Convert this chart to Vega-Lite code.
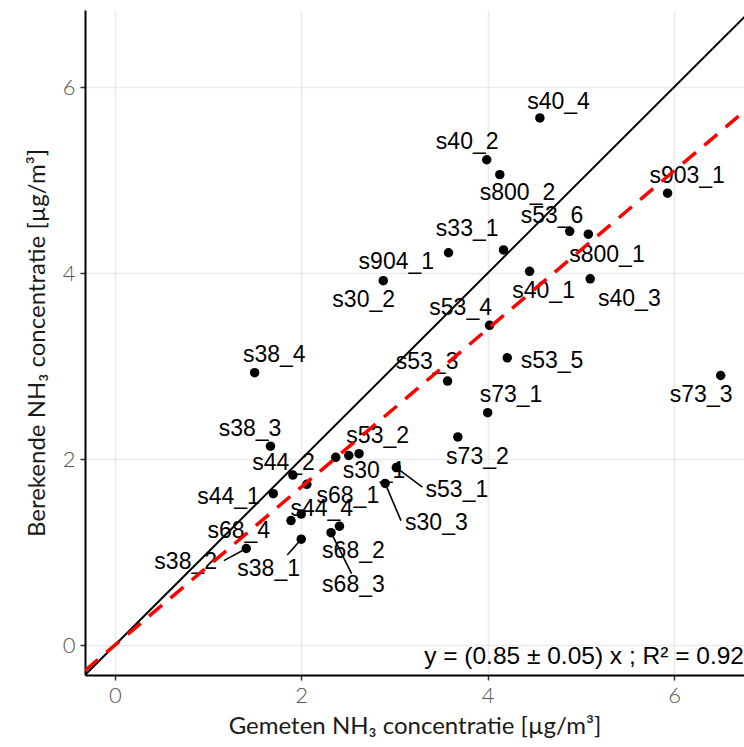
{
  "$schema": "https://vega.github.io/schema/vega-lite/v6.json",
  "width": 659,
  "height": 665,
  "autosize": {"type": "none"},
  "padding": {"left": 85, "top": 10, "right": 0, "bottom": 72},
  "background": "white",
  "config": {
    "view": {"stroke": null},
    "axis": {
      "grid": true,
      "gridColor": "#ebebeb",
      "gridWidth": 1.6,
      "domainColor": "black",
      "domainWidth": 2,
      "tickColor": "#333333",
      "tickSize": 5,
      "tickWidth": 1.5,
      "labelFont": "Lato",
      "labelFontSize": 22,
      "labelFontWeight": 300,
      "labelColor": "#555555",
      "labelPadding": 5,
      "format": "d",
      "titleFont": "Lato",
      "titleFontSize": 24,
      "titleFontWeight": "normal",
      "titleColor": "#1a1a1a"
    }
  },
  "datasets": {
    "pts": [
      {"name": "s40_4", "x": 4.56, "y": 5.67, "lx": 4.76, "ly": 5.84},
      {"name": "s40_2", "x": 3.99, "y": 5.22, "lx": 3.78, "ly": 5.41},
      {"name": "s800_2", "x": 4.13, "y": 5.06, "lx": 4.32, "ly": 4.86},
      {"name": "s903_1", "x": 5.93, "y": 4.86, "lx": 6.14, "ly": 5.04},
      {"name": "s53_6", "x": 4.88, "y": 4.45, "lx": 4.69, "ly": 4.61},
      {"name": "s800_1", "x": 5.08, "y": 4.42, "lx": 5.28, "ly": 4.2},
      {"name": "s33_1", "x": 3.58, "y": 4.22, "lx": 3.78, "ly": 4.47},
      {"name": "s904_1", "x": 4.17, "y": 4.25, "lx": 3.02, "ly": 4.12},
      {"name": "s40_1", "x": 4.45, "y": 4.02, "lx": 4.6, "ly": 3.81},
      {"name": "s40_3", "x": 5.1, "y": 3.94, "lx": 5.52, "ly": 3.72},
      {"name": "s30_2", "x": 2.88, "y": 3.92, "lx": 2.67, "ly": 3.71},
      {"name": "s53_4", "x": 4.02, "y": 3.44, "lx": 3.71, "ly": 3.63},
      {"name": "s53_5", "x": 4.21, "y": 3.09, "lx": 4.69, "ly": 3.06},
      {"name": "s53_3", "x": 3.57, "y": 2.84, "lx": 3.35, "ly": 3.04},
      {"name": "s73_1", "x": 4.0, "y": 2.5, "lx": 4.25, "ly": 2.69},
      {"name": "s73_2", "x": 3.68, "y": 2.24, "lx": 3.89, "ly": 2.02},
      {"name": "s73_3", "x": 6.5, "y": 2.9, "lx": 6.29, "ly": 2.69},
      {"name": "s38_4", "x": 1.5, "y": 2.93, "lx": 1.71, "ly": 3.12},
      {"name": "s38_3", "x": 1.67, "y": 2.14, "lx": 1.45, "ly": 2.33},
      {"name": "s44_2", "x": 1.91, "y": 1.83, "lx": 1.81, "ly": 1.96},
      {"name": "s44_1", "x": 1.7, "y": 1.63, "lx": 1.22, "ly": 1.59},
      {"name": "s68_1", "x": 2.06, "y": 1.73, "lx": 2.5, "ly": 1.6},
      {"name": "s53_2", "x": 2.62, "y": 2.06, "lx": 2.82, "ly": 2.25},
      {"name": "s30_1", "x": 2.51, "y": 2.04, "lx": 2.78, "ly": 1.87},
      {"name": "s44_3", "x": 2.37, "y": 2.02, "lx": null, "ly": null},
      {"name": "s53_1", "x": 3.02, "y": 1.91, "lx": 3.67, "ly": 1.67},
      {"name": "s30_3", "x": 2.9, "y": 1.74, "lx": 3.45, "ly": 1.31},
      {"name": "s68_4", "x": 1.89, "y": 1.34, "lx": 1.33, "ly": 1.23},
      {"name": "s44_4", "x": 2.0, "y": 1.41, "lx": 2.22, "ly": 1.47},
      {"name": "s68_2", "x": 2.41, "y": 1.28, "lx": 2.56, "ly": 1.01},
      {"name": "s68_3", "x": 2.32, "y": 1.21, "lx": 2.56, "ly": 0.65},
      {"name": "s38_1", "x": 2.0, "y": 1.14, "lx": 1.65, "ly": 0.82},
      {"name": "s38_2", "x": 1.41, "y": 1.04, "lx": 0.76, "ly": 0.9}
    ],
    "segs": [
      {"x": 3.02, "y": 1.91, "x2": 3.3, "y2": 1.7},
      {"x": 2.9, "y": 1.74, "x2": 3.07, "y2": 1.34},
      {"x": 2.32, "y": 1.21, "x2": 2.54, "y2": 0.77},
      {"x": 2.0, "y": 1.14, "x2": 1.85, "y2": 0.97},
      {"x": 1.41, "y": 1.04, "x2": 1.17, "y2": 0.91}
    ],
    "oneone": [
      {"x": -0.32, "y": -0.32},
      {"x": 6.83, "y": 6.83}
    ],
    "fit": [
      {"x": -0.32, "y": -0.272},
      {"x": 6.75, "y": 5.7375}
    ],
    "eq": [
      {"x": 6.75, "y": -0.13, "label": "y = (0.85 ± 0.05) x ; R² = 0.92"}
    ]
  },
  "layer": [
    {
      "data": {"name": "pts"},
      "mark": {"type": "circle", "size": 90, "color": "black", "opacity": 1},
      "encoding": {
        "x": {
          "field": "x", "type": "quantitative",
          "title": "Gemeten NH₃ concentratie [µg/m³]",
          "scale": {"domain": [-0.32, 6.75], "nice": false, "zero": false},
          "axis": {"values": [0, 2, 4, 6], "titlePadding": 8}
        },
        "y": {
          "field": "y", "type": "quantitative",
          "title": "Berekende NH₃ concentratie [µg/m³]",
          "scale": {"domain": [-0.32, 6.83], "nice": false, "zero": false},
          "axis": {"values": [0, 2, 4, 6], "titlePadding": 13}
        }
      }
    },
    {
      "data": {"name": "segs"},
      "mark": {"type": "rule", "color": "black", "strokeWidth": 1.6},
      "encoding": {
        "x": {"field": "x", "type": "quantitative", "title": "Gemeten NH₃ concentratie [µg/m³]"},
        "y": {"field": "y", "type": "quantitative", "title": "Berekende NH₃ concentratie [µg/m³]"},
        "x2": {"field": "x2"},
        "y2": {"field": "y2"}
      }
    },
    {
      "data": {"name": "pts"},
      "transform": [{"filter": "datum.lx != null"}],
      "mark": {"type": "text", "font": "Liberation Sans", "fontSize": 23, "color": "black", "align": "center", "baseline": "middle"},
      "encoding": {
        "x": {"field": "lx", "type": "quantitative", "title": "Gemeten NH₃ concentratie [µg/m³]"},
        "y": {"field": "ly", "type": "quantitative", "title": "Berekende NH₃ concentratie [µg/m³]"},
        "text": {"field": "name"}
      }
    },
    {
      "data": {"name": "oneone"},
      "mark": {"type": "line", "color": "black", "strokeWidth": 2, "clip": true},
      "encoding": {
        "x": {"field": "x", "type": "quantitative", "title": "Gemeten NH₃ concentratie [µg/m³]"},
        "y": {"field": "y", "type": "quantitative", "title": "Berekende NH₃ concentratie [µg/m³]"}
      }
    },
    {
      "data": {"name": "fit"},
      "mark": {"type": "line", "color": "#ff0000", "strokeWidth": 3.5, "strokeDash": [17, 11], "clip": true},
      "encoding": {
        "x": {"field": "x", "type": "quantitative", "title": "Gemeten NH₃ concentratie [µg/m³]"},
        "y": {"field": "y", "type": "quantitative", "title": "Berekende NH₃ concentratie [µg/m³]"}
      }
    },
    {
      "data": {"name": "eq"},
      "mark": {"type": "text", "font": "Liberation Sans", "fontSize": 24.5, "color": "black", "align": "right", "baseline": "middle"},
      "encoding": {
        "x": {"field": "x", "type": "quantitative", "title": "Gemeten NH₃ concentratie [µg/m³]"},
        "y": {"field": "y", "type": "quantitative", "title": "Berekende NH₃ concentratie [µg/m³]"},
        "text": {"field": "label"}
      }
    }
  ]
}
